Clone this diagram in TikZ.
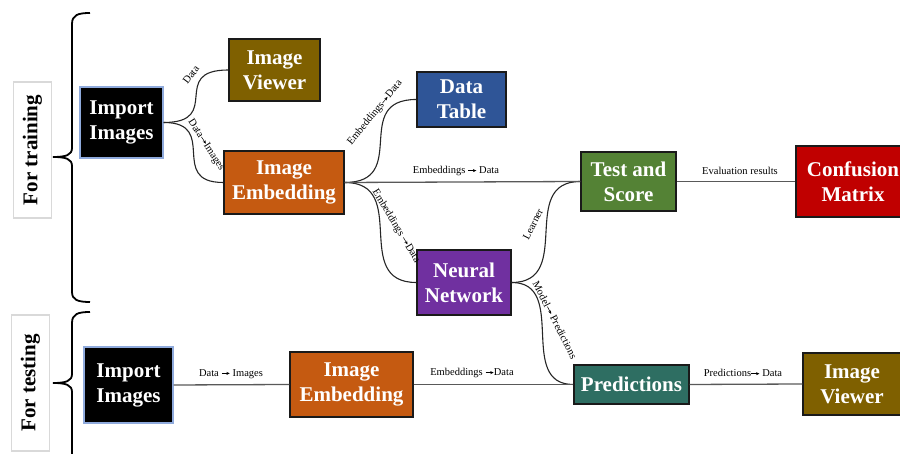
\documentclass[tikz,border=0pt]{standalone}
\usepackage{fontspec}
\setmainfont{Liberation Serif}
\usetikzlibrary{arrows.meta}
\definecolor{cOlive}{HTML}{7F6000}
\definecolor{cOrange}{HTML}{C55A11}
\definecolor{cBlue}{HTML}{2F5597}
\definecolor{cGreen}{HTML}{548235}
\definecolor{cRed}{HTML}{C00000}
\definecolor{cPurple}{HTML}{7030A0}
\definecolor{cTeal}{HTML}{2E6E62}
\definecolor{cLightBlue}{HTML}{8FAADC}
\definecolor{cBoxLine}{HTML}{1A1A1A}
\definecolor{cGrayBox}{HTML}{D9D9D9}
\newcommand\myarr{\tikz[baseline=-0.6ex]\draw[line width=0.5pt,-{Stealth[length=3.4pt,width=3pt]}] (0,0)--(8pt,0);}
\begin{document}
\begin{tikzpicture}[x=1pt,y=1pt,
  box/.style={draw=cBoxLine, line width=1.4pt, text=white, font=\bfseries\fontsize{21}{25}\selectfont, align=center, inner sep=0pt},
  sidebox/.style={draw=cGrayBox, line width=1.3pt, fill=white, inner sep=0pt, minimum width=38pt, minimum height=136pt},
  sidetext/.style={rotate=90, font=\bfseries\fontsize{21}{25}\selectfont, inner sep=0pt},
  lab/.style={font=\fontsize{10.5}{12}\selectfont, inner sep=1pt},
  curve/.style={draw=black!85, line width=1.1pt},
  straight/.style={draw=black!65, line width=1.3pt},
  brace/.style={draw=black, line width=1.8pt}]
\useasboundingbox (0,0) rectangle (900,454);
\clip (0,0) rectangle (900,454);

% side labels
\node[sidebox] (trainbox) at (32.5,304) {};
\node[sidetext] (traintext) at (trainbox.center) {For training};
\node[sidebox] (testbox) at (30.5,71) {};
\node[sidetext] (testtext) at (testbox.center) {For testing};

% braces
\draw[brace] (90,441) .. controls (78,441) and (72,439) .. (72,430) -- (72,306)
  .. controls (72,299) and (66,297) .. (53,297)
  .. controls (66,297) and (72,295) .. (72,288) -- (72,162)
  .. controls (72,154) and (78,152) .. (90,152);
\draw[brace] (90,142) .. controls (78,142) and (72,140) .. (72,131) -- (72,80)
  .. controls (72,73) and (66,71) .. (53,71)
  .. controls (66,71) and (72,69) .. (72,62) -- (72,-10);

% training nodes
\node[box, fill=black, draw=cLightBlue, minimum width=83pt, minimum height=71pt] (imp1) at (121.5,331.5) {Import\\Images};
\node[box, fill=cOlive, minimum width=91pt, minimum height=62pt] (iv1) at (274.5,384) {Image\\Viewer};
\node[box, fill=cOrange, minimum width=120pt, minimum height=63pt] (ie1) at (284,271.5) {Image\\Embedding};
\node[box, fill=cBlue, minimum width=89pt, minimum height=55pt] (dt) at (461.5,354.5) {Data\\Table};
\node[box, fill=cGreen, minimum width=95pt, minimum height=59pt] (ts) at (628.5,272.5) {Test and\\Score};
\node[box, fill=cRed, minimum width=114pt, minimum height=71pt] (cm) at (853,272.5) {Confusion\\Matrix};
\node[box, fill=cPurple, minimum width=94pt, minimum height=65pt] (nn) at (464,171.5) {Neural\\Network};

% testing nodes
\node[box, fill=black, draw=cLightBlue, minimum width=89pt, minimum height=76pt] (imp2) at (128.5,69) {Import\\Images};
\node[box, fill=cOrange, minimum width=123pt, minimum height=65pt] (ie2) at (351.5,69.5) {Image\\Embedding};
\node[box, fill=cTeal, minimum width=115pt, minimum height=39pt] (pr) at (631.5,69.5) {Predictions};
\node[box, fill=cOlive, minimum width=98pt, minimum height=62pt] (iv2) at (852,70) {Image\\Viewer};

% curved connectors
\draw[curve] (imp1.east) .. controls +(60,0) and +(-60,0) .. (iv1.west);
\draw[curve] (imp1.east) .. controls +(56,0) and +(-56,0) .. (ie1.west);
\draw[curve] (ie1.east) .. controls +(66,0) and +(-66,0) .. (dt.west);
\draw[curve] (ie1.east) .. controls +(66,0) and +(-66,0) .. (nn.west);
\draw[curve] (nn.east) .. controls +(63,0) and +(-63,0) .. (ts.west);
\draw[curve] (nn.east) .. controls +(57,0) and +(-57,0) .. (pr.west);

% straight connectors
\draw[straight] (ie1.east) -- (ts.west);
\draw[straight] (ts.east) -- (cm.west);
\draw[straight] (imp2.east) -- (ie2.west);
\draw[straight] (ie2.east) -- (pr.west);
\draw[straight] (pr.east) -- (iv2.west);

% connector labels
\node[lab, rotate=53] (l1) at (191,379) {Data};
\node[lab, rotate=-57] (l2) at (206,309) {Data\myarr Images};
\node[lab, rotate=51] (l3) at (375,341) {Embeddings\myarr Data};
\node[lab] (l4) at (456,283) {Embeddings \myarr\ Data};
\node[lab, rotate=-59] (l5) at (396,228) {Embeddings \myarr Data};
\node[lab, rotate=63] (l6) at (533,230) {Learner};
\node[lab, rotate=-63] (l7) at (555,134) {Model\myarr\ Predictions};
\node[lab] (l8) at (740,283) {Evaluation results};
\node[lab] (l9) at (231,80) {Data \myarr\ Images};
\node[lab] (l10) at (472,81) {Embeddings \myarr Data};
\node[lab] (l11) at (743,81) {Predictions\myarr\ Data};
\end{tikzpicture}
\end{document}
